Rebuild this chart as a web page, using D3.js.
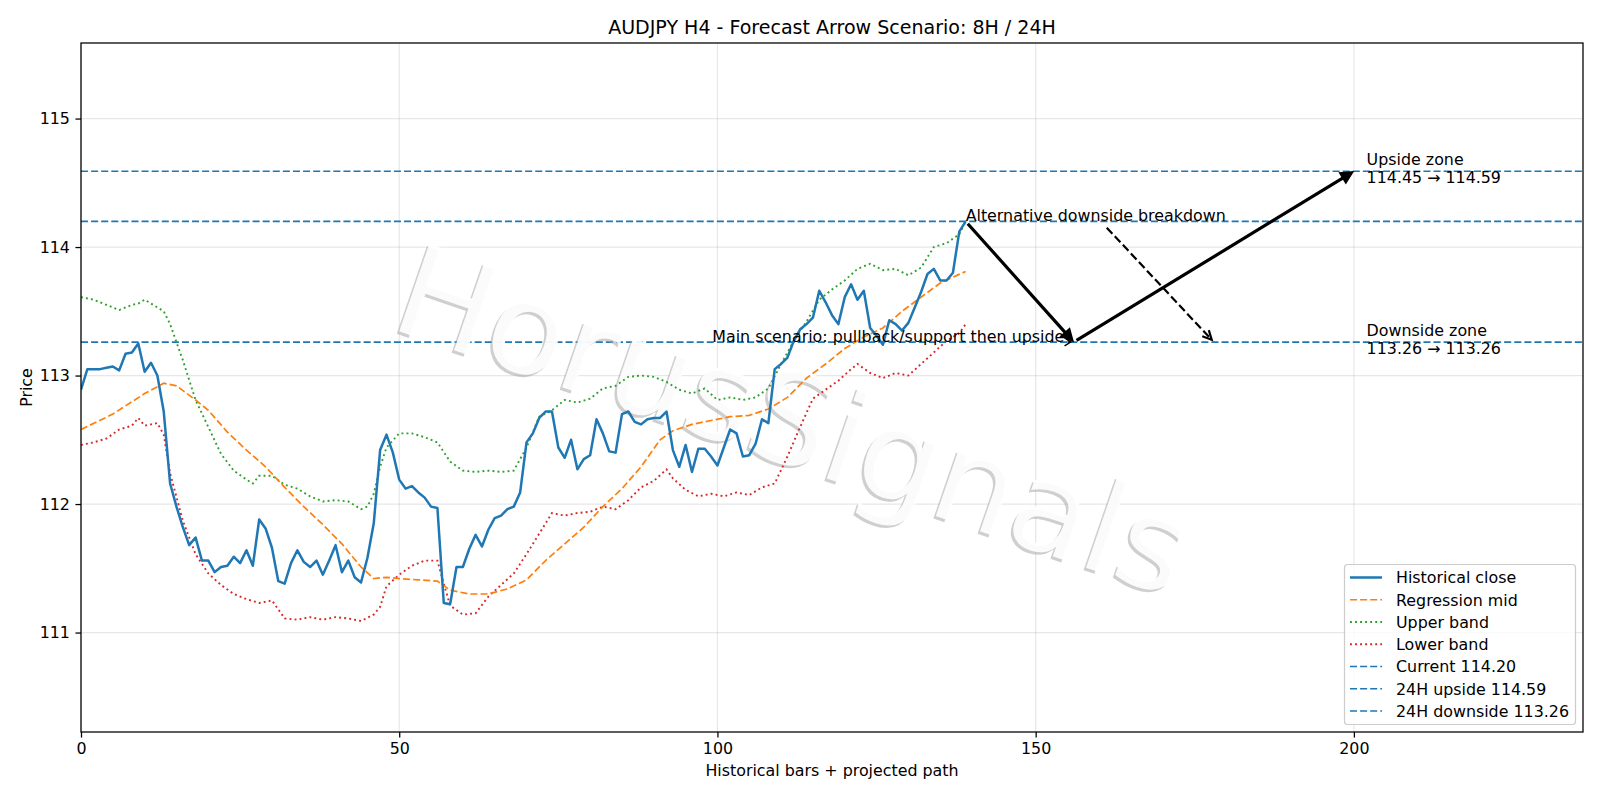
<!DOCTYPE html>
<html>
<head>
<meta charset="utf-8">
<script src="https://cdn.jsdelivr.net/npm/d3@7"></script>
<style>
  html, body { margin: 0; padding: 0; background: #fff; }
  #chart { width: 1600px; height: 800px; }
  text { font-family: "DejaVu Sans", sans-serif; }
</style>
</head>
<body>
<div id="chart"></div>
<script>
// --- data ----------------------------------------------------------------
const closeValues = [
  112.89, 113.05, 113.05, 113.05, 113.06, 113.07, 113.04, 113.17, 113.18, 113.25,
  113.03, 113.10, 113.00, 112.72, 112.16, 111.98, 111.82, 111.68, 111.74, 111.56,
  111.56, 111.47, 111.51, 111.52, 111.59, 111.54, 111.64, 111.52, 111.88, 111.81,
  111.66, 111.40, 111.38, 111.54, 111.64, 111.55, 111.51, 111.56, 111.45, 111.56,
  111.68, 111.47, 111.56, 111.43, 111.39, 111.58, 111.85, 112.42, 112.54, 112.40,
  112.19, 112.12, 112.14, 112.09, 112.05, 111.98, 111.97, 111.23, 111.22, 111.51,
  111.51, 111.65, 111.76, 111.67, 111.80, 111.89, 111.91, 111.96, 111.98, 112.09,
  112.48, 112.55, 112.67, 112.72, 112.72, 112.44, 112.36, 112.50, 112.27, 112.35,
  112.38, 112.66, 112.55, 112.41, 112.40, 112.70, 112.72, 112.64, 112.62, 112.66,
  112.67, 112.67, 112.72, 112.42, 112.29, 112.46, 112.25, 112.43, 112.43, 112.37,
  112.30, 112.44, 112.58, 112.55, 112.37, 112.38, 112.47, 112.66, 112.63, 113.05,
  113.09, 113.14, 113.27, 113.36, 113.40, 113.45, 113.66, 113.57, 113.47, 113.40,
  113.61, 113.71, 113.59, 113.66, 113.37, 113.31, 113.24, 113.43, 113.40, 113.35,
  113.41, 113.53, 113.65, 113.79, 113.83, 113.74, 113.74, 113.80, 114.12, 114.20
];

const midBars = [0, 5, 10, 13, 15, 18, 20, 23, 26, 29, 32, 35, 38, 41, 44, 46, 48, 50, 53, 56,
  58, 61, 64, 67, 70, 73, 76, 79, 82, 85, 88, 91, 93, 96, 99, 102, 105, 108, 111, 114,
  117, 120, 123, 126, 129, 132, 135, 139];
const midValues = [112.58, 112.70, 112.86, 112.94, 112.92, 112.81, 112.73, 112.56, 112.42, 112.29,
  112.13, 111.98, 111.84, 111.69, 111.51, 111.42, 111.43, 111.42, 111.41, 111.40,
  111.33, 111.30, 111.30, 111.34, 111.41, 111.56, 111.69, 111.82, 111.98, 112.12,
  112.29, 112.50, 112.57, 112.62, 112.65, 112.68, 112.69, 112.74, 112.83, 112.98,
  113.09, 113.21, 113.30, 113.37, 113.50, 113.61, 113.72, 113.81];

const upperBars = [0, 2, 4, 6, 8, 9, 10, 12, 13, 14, 16, 18, 20, 22, 24, 26, 27, 28, 30, 32,
  34, 36, 38, 40, 42, 44, 45, 46, 47, 48, 50, 52, 54, 56, 58, 60, 62, 64, 66, 68,
  70, 72, 74, 76, 78, 80, 82, 84, 86, 88, 90, 92, 94, 96, 98, 100, 102, 104, 106, 108,
  110, 112, 114, 116, 118, 120, 122, 124, 126, 128, 130, 132, 134, 136, 138, 139];
const upperValues = [113.61, 113.59, 113.55, 113.51, 113.55, 113.56, 113.59, 113.53, 113.50, 113.40,
  113.12, 112.81, 112.60, 112.39, 112.26, 112.19, 112.16, 112.22, 112.22, 112.15,
  112.12, 112.06, 112.02, 112.03, 112.02, 111.96, 111.98, 112.08, 112.29, 112.44,
  112.55, 112.55, 112.52, 112.48, 112.33, 112.26, 112.25, 112.26, 112.25, 112.26,
  112.44, 112.68, 112.73, 112.81, 112.79, 112.82, 112.90, 112.92, 112.99, 113.00,
  112.99, 112.95, 112.89, 112.86, 112.90, 112.81, 112.83, 112.81, 112.83, 112.90,
  113.09, 113.27, 113.42, 113.59, 113.67, 113.74, 113.83, 113.87, 113.82, 113.83,
  113.78, 113.84, 114.00, 114.03, 114.10, 114.20];

const lowerBars = [0, 2, 4, 6, 8, 9, 10, 12, 13, 14, 16, 18, 20, 22, 24, 26, 28, 30, 32, 34,
  36, 38, 40, 42, 44, 46, 47, 48, 50, 52, 54, 56, 57, 58, 60, 62, 64, 66, 68, 70,
  72, 74, 76, 78, 80, 82, 84, 86, 88, 90, 92, 93, 95, 97, 99, 101, 103, 105, 107, 109,
  111, 113, 115, 117, 119, 121, 122, 124, 126, 128, 130, 132, 134, 136, 138, 139];
const lowerValues = [112.46, 112.48, 112.51, 112.58, 112.61, 112.67, 112.61, 112.63, 112.54, 112.24,
  111.87, 111.61, 111.46, 111.37, 111.30, 111.26, 111.23, 111.25, 111.11, 111.10,
  111.12, 111.10, 111.12, 111.11, 111.09, 111.14, 111.20, 111.36, 111.45, 111.52,
  111.56, 111.56, 111.38, 111.21, 111.14, 111.15, 111.28, 111.37, 111.46, 111.61,
  111.77, 111.93, 111.91, 111.93, 111.94, 111.98, 111.96, 112.03, 112.13, 112.18,
  112.27, 112.20, 112.11, 112.06, 112.08, 112.06, 112.09, 112.07, 112.13, 112.16,
  112.37, 112.60, 112.82, 112.89, 112.96, 113.05, 113.09, 113.02, 112.98, 113.02,
  113.00, 113.09, 113.18, 113.27, 113.33, 113.40];

const seriesLabels = ["Historical close", "Regression mid", "Upper band", "Lower band"];
const levelValues = [114.20, 114.59, 113.26];
const levelLabels = ["Current 114.20", "24H upside 114.59", "24H downside 113.26"];

// projected path: current -> pullback -> upside target
const pathBars = [139, 156, 200];
const pathValues = [114.20, 113.26, 114.59];
const mainLabelBar = 154.5;
const altTarget = [178, 113.26];
const zoneBar = 202;
const zoneValues = [114.59, 113.26];
const zoneLines = [["Upside zone", "114.45 → 114.59"], ["Downside zone", "113.26 → 113.26"]];

const xTicks = [0, 50, 100, 150, 200];
const yTicks = [111, 112, 113, 114, 115];
const xDomain = [0, 236];
const yDomain = [110.226, 115.588];
// --------------------------------------------------------------------------

(function () {
  const width = 1600, height = 800;
  const margin = { top: 43, right: 17, bottom: 68, left: 81 };
  const pt = 1.587;                 // px per point in the reference
  const fs = 10 * pt;               // base font size
  const blue = "#1f77b4", orange = "#ff7f0e", green = "#2ca02c", red = "#d62728";
  const dashed = `${3.7 * 1.2 * pt},${1.6 * 1.2 * pt}`;
  const dotted = `${1.2 * pt},${1.65 * 1.2 * pt}`;

  const svg = d3.select("#chart").append("svg")
    .attr("width", width).attr("height", height);

  const x = d3.scaleLinear().domain(xDomain).range([margin.left, width - margin.right]);
  const y = d3.scaleLinear().domain(yDomain).range([height - margin.bottom, margin.top]);

  svg.append("defs").append("clipPath").attr("id", "plot-clip")
    .append("rect")
    .attr("x", margin.left).attr("y", margin.top)
    .attr("width", x.range()[1] - margin.left)
    .attr("height", y.range()[0] - margin.top);

  // grid
  const grid = svg.append("g").attr("stroke", "#b0b0b0").attr("stroke-opacity", 0.3).attr("stroke-width", 1.2);
  grid.selectAll(".gx").data(xTicks).join("line")
    .attr("x1", d => x(d)).attr("x2", d => x(d))
    .attr("y1", y.range()[1]).attr("y2", y.range()[0]);
  grid.selectAll(".gy").data(yTicks).join("line")
    .attr("x1", x.range()[0]).attr("x2", x.range()[1])
    .attr("y1", d => y(d)).attr("y2", d => y(d));

  const plot = svg.append("g").attr("clip-path", "url(#plot-clip)");

  // horizontal level lines
  plot.selectAll(".level").data(levelValues).join("line")
    .attr("x1", x.range()[0]).attr("x2", x.range()[1])
    .attr("y1", d => y(d)).attr("y2", d => y(d))
    .attr("stroke", blue).attr("stroke-width", 1.7)
    .attr("stroke-dasharray", dashed);

  // watermark: white text over a thin grey shadow
  const wmX = 779, wmY = 462, wmAngle = 19;
  plot.append("text")
    .attr("transform", `translate(${wmX - 2.5},${wmY + 2.5}) rotate(${wmAngle})`)
    .attr("text-anchor", "middle")
    .style("font-size", "127px")
    .attr("fill", "#a0a0a0").attr("fill-opacity", 0.5)
    .text("HorusSignals");
  plot.append("text")
    .attr("transform", `translate(${wmX},${wmY}) rotate(${wmAngle})`)
    .attr("text-anchor", "middle")
    .style("font-size", "127px")
    .attr("fill", "#ffffff").attr("fill-opacity", 0.92)
    .text("HorusSignals");

  const line = d3.line().x(d => x(d[0])).y(d => y(d[1]));
  const zip = (xs, ys) => xs.map((v, i) => [v, ys[i]]);

  plot.append("path").datum(zip(upperBars, upperValues))
    .attr("d", line).attr("fill", "none").attr("stroke", green)
    .attr("stroke-width", 1.2 * pt).attr("stroke-dasharray", dotted);
  plot.append("path").datum(zip(lowerBars, lowerValues))
    .attr("d", line).attr("fill", "none").attr("stroke", red)
    .attr("stroke-width", 1.2 * pt).attr("stroke-dasharray", dotted);
  plot.append("path").datum(zip(midBars, midValues))
    .attr("d", line).attr("fill", "none").attr("stroke", orange)
    .attr("stroke-width", 1.7).attr("stroke-dasharray", dashed);
  plot.append("path").datum(closeValues.map((v, i) => [i, v]))
    .attr("d", line).attr("fill", "none").attr("stroke", blue)
    .attr("stroke-width", 2.5).attr("stroke-linejoin", "round");

  // arrows -----------------------------------------------------------------
  const ann = svg.append("g");

  function arrow(p0, p1, opt) {
    const dx = p1[0] - p0[0], dy = p1[1] - p0[1];
    const len = Math.hypot(dx, dy), ux = dx / len, uy = dy / len;
    const s = 2 * pt;                                // shrink at both ends
    const a = [p0[0] + ux * s, p0[1] + uy * s];
    const b = [p1[0] - ux * s, p1[1] - uy * s];
    const hl = opt.headLen, hw = opt.headWidth;
    const back = [b[0] - ux * hl, b[1] - uy * hl];
    const l = [back[0] - uy * hw, back[1] + ux * hw];
    const r = [back[0] + uy * hw, back[1] - ux * hw];
    const grp = ann.append("g").attr("stroke", "#000").attr("stroke-width", opt.width);
    const shaftEnd = opt.filled ? back : b;
    grp.append("line")
      .attr("x1", a[0]).attr("y1", a[1]).attr("x2", shaftEnd[0]).attr("y2", shaftEnd[1])
      .attr("stroke-dasharray", opt.dash || null);
    if (opt.filled) {
      grp.append("path").attr("d", `M${b}L${l}L${r}Z`).attr("fill", "#000")
        .attr("stroke-linejoin", "miter");
    } else {
      grp.append("path").attr("d", `M${l}L${b}L${r}`).attr("fill", "none")
        .attr("stroke-linejoin", "miter");
    }
  }

  // start of an annotation arrow: text bbox edge towards the target
  function fromBox(bb, target) {
    const cx = bb.x + bb.width / 2, cy = bb.y + bb.height / 2;
    const dx = target[0] - cx, dy = target[1] - cy;
    const tx = dx !== 0 ? (bb.width / 2) / Math.abs(dx) : Infinity;
    const ty = dy !== 0 ? (bb.height / 2) / Math.abs(dy) : Infinity;
    const t = Math.min(tx, ty);
    return [cx + dx * t, cy + dy * t];
  }

  const pts = pathBars.map((b, i) => [x(b), y(pathValues[i])]);
  arrow(pts[0], pts[1], { width: 3.2, headLen: 9, headWidth: 4.5, filled: true });
  arrow(pts[1], pts[2], { width: 3.2, headLen: 9, headWidth: 4.5, filled: true });

  const altText = ann.append("text")
    .attr("x", x(pathBars[0])).attr("y", y(pathValues[0]))
    .style("font-size", fs + "px").attr("fill", "#000")
    .text("Alternative downside breakdown");
  const altEnd = [x(altTarget[0]), y(altTarget[1])];
  arrow(fromBox(altText.node().getBBox(), altEnd), altEnd,
    { width: 2.2, headLen: 9, headWidth: 4.5, filled: false,
      dash: `${3.7 * 1.4 * pt},${1.6 * 1.4 * pt}` });

  const mainText = ann.append("text")
    .attr("x", x(mainLabelBar)).attr("y", y(pathValues[1]))
    .attr("text-anchor", "end")
    .style("font-size", fs + "px").attr("fill", "#000")
    .text("Main scenario: pullback/support then upside");
  arrow(fromBox(mainText.node().getBBox(), pts[1]), pts[1],
    { width: 1.5, headLen: 6, headWidth: 4, filled: false });

  // zone labels, two lines centred on their level
  zoneLines.forEach((lines, i) => {
    const t = ann.append("text")
      .attr("x", x(zoneBar)).attr("y", y(zoneValues[i]) - 5.8)
      .style("font-size", fs + "px").attr("fill", "#000");
    t.append("tspan").attr("x", x(zoneBar)).text(lines[0]);
    t.append("tspan").attr("x", x(zoneBar)).attr("dy", 17.5).text(lines[1]);
  });

  // axes ---------------------------------------------------------------------
  const xAxis = svg.append("g")
    .attr("transform", `translate(0,${y.range()[0]})`)
    .call(d3.axisBottom(x).tickValues(xTicks).tickFormat(d3.format("d"))
      .tickSize(3.5 * pt).tickPadding(3.5 * pt).tickSizeOuter(0));
  const yAxis = svg.append("g")
    .attr("transform", `translate(${x.range()[0]},0)`)
    .call(d3.axisLeft(y).tickValues(yTicks).tickFormat(d3.format("d"))
      .tickSize(3.5 * pt).tickPadding(3.5 * pt).tickSizeOuter(0));
  [xAxis, yAxis].forEach(a => {
    a.select(".domain").remove();
    a.selectAll("line").attr("stroke", "#000").attr("stroke-width", 0.8 * pt);
    a.selectAll("text").style("font-size", fs + "px")
      .style("font-family", "'DejaVu Sans', sans-serif").attr("fill", "#000");
  });

  svg.append("rect")
    .attr("x", x.range()[0]).attr("y", y.range()[1])
    .attr("width", x.range()[1] - x.range()[0]).attr("height", y.range()[0] - y.range()[1])
    .attr("fill", "none").attr("stroke", "#000").attr("stroke-width", 0.8 * pt);

  svg.append("text")
    .attr("x", (x.range()[0] + x.range()[1]) / 2).attr("y", 33.5)
    .attr("text-anchor", "middle").style("font-size", 12 * pt + "px")
    .text("AUDJPY H4 - Forecast Arrow Scenario: 8H / 24H");
  svg.append("text")
    .attr("x", (x.range()[0] + x.range()[1]) / 2).attr("y", 776)
    .attr("text-anchor", "middle").style("font-size", fs + "px")
    .text("Historical bars + projected path");
  svg.append("text")
    .attr("transform", `translate(32,${(y.range()[0] + y.range()[1]) / 2}) rotate(-90)`)
    .attr("text-anchor", "middle").style("font-size", fs + "px")
    .text("Price");

  // legend -------------------------------------------------------------------
  const legendItems = [
    { label: seriesLabels[0], color: blue, width: 2.5, dash: null },
    { label: seriesLabels[1], color: orange, width: 1.7, dash: dashed },
    { label: seriesLabels[2], color: green, width: 1.2 * pt, dash: dotted },
    { label: seriesLabels[3], color: red, width: 1.2 * pt, dash: dotted }
  ].concat(levelLabels.map(l => ({ label: l, color: blue, width: 1.7, dash: dashed })));

  const lg = svg.append("g");
  lg.append("rect")
    .attr("x", 1344.5).attr("y", 564.5).attr("width", 231).attr("height", 160)
    .attr("rx", 3).attr("fill", "#fff").attr("fill-opacity", 0.8)
    .attr("stroke", "#cccccc").attr("stroke-width", 1.2);
  const rows = lg.selectAll(".row").data(legendItems).join("g")
    .attr("transform", (d, i) => `translate(0,${577.5 + i * 22.25})`);
  rows.append("line")
    .attr("x1", 1350).attr("x2", 1382).attr("y1", 0).attr("y2", 0)
    .attr("stroke", d => d.color).attr("stroke-width", d => d.width)
    .attr("stroke-dasharray", d => d.dash);
  rows.append("text")
    .attr("x", 1396).attr("y", 5.8)
    .style("font-size", fs + "px").attr("fill", "#000")
    .text(d => d.label);
})();
</script>
</body>
</html>
